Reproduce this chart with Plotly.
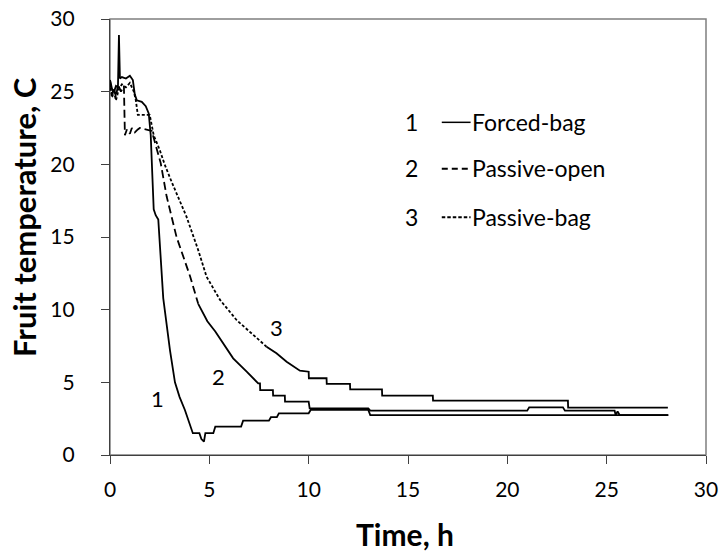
import plotly.graph_objects as go

# ---- data (time in h, temperature in C) ----
t_forced = [0, 0.1, 0.2, 0.3, 0.4, 0.45, 0.5, 0.6, 0.8, 1.0, 1.15, 1.25, 1.35, 1.6, 1.8, 1.95,
            2.05, 2.1, 2.2, 2.3, 2.43, 2.68, 3.02, 3.27, 3.5, 3.77, 4.0, 4.17, 4.5, 4.6, 4.73,
            4.8, 5.2, 5.3, 6.6, 6.7, 8.0, 8.1, 8.4, 8.5, 10.0, 10.1, 13.0, 13.1, 28.1]
T_forced = [25.8, 25.2, 25.0, 25.4, 25.3, 28.9, 25.9, 26.0, 25.9, 26.1, 25.8, 24.8, 24.4, 24.3, 24.0, 23.5,
            22.0, 20.5, 16.9, 16.5, 16.2, 10.8, 7.2, 5.0, 4.0, 3.1, 2.2, 1.5, 1.5, 1.1, 0.92,
            1.5, 1.5, 1.95, 1.95, 2.36, 2.36, 2.6, 2.6, 2.87, 2.87, 3.1, 3.1, 2.75, 2.75]

t_open = [0, 0.1, 0.2, 0.3, 0.4, 0.55, 0.7, 0.75, 0.85, 1.0, 1.1, 1.25, 1.4, 1.5, 2.1, 2.35,
          2.55, 2.85, 3.35, 4.03, 4.44, 4.9, 5.3, 5.7, 6.2, 6.88, 7.46, 7.55, 7.56, 8.2, 8.21,
          8.8, 8.81, 10.0, 10.05, 13.0, 13.1, 21.0, 21.1, 22.8, 22.9, 25.4, 25.45, 25.55, 25.65, 28.1]
T_open = [25.8, 24.8, 25.3, 24.6, 25.5, 25.0, 25.4, 22.0, 22.4, 22.1, 22.5, 22.2, 22.4, 22.5, 22.3, 21.0,
          20.1, 17.8, 15.0, 12.3, 10.4, 9.2, 8.5, 7.69, 6.65, 5.73, 4.93, 4.93, 4.47, 4.47, 4.08,
          4.08, 3.67, 3.67, 3.21, 3.21, 3.05, 3.05, 3.28, 3.28, 3.05, 3.05, 2.75, 3.0, 2.75, 2.75]

t_bag = [0, 0.1, 0.2, 0.3, 0.45, 0.6, 0.8, 1.0, 1.2, 1.3, 1.4, 2.0, 2.2, 2.5, 2.75, 3.1,
         3.85, 4.44, 4.86, 5.54, 6.37, 7.12, 7.88, 8.38, 8.89, 9.56, 10.0, 10.01, 10.9, 10.91,
         12.08, 12.09, 13.69, 13.7, 16.25, 16.26, 23.05, 23.06, 28.08]
T_bag = [25.6, 24.6, 25.0, 24.4, 25.2, 25.5, 25.3, 25.6, 25.0, 24.4, 23.4, 23.4, 22.0, 21.0, 20.0, 18.8,
         16.4, 14.1, 12.27, 10.67, 9.29, 8.37, 7.45, 7.0, 6.42, 5.80, 5.73, 5.28, 5.28, 4.89,
         4.89, 4.52, 4.52, 4.08, 4.08, 3.74, 3.74, 3.26, 3.26]

x_ticks = [0, 5, 10, 15, 20, 25, 30]
y_ticks = [0, 5, 10, 15, 20, 25, 30]

legend_nums = ["1", "2", "3"]
legend_names = ["Forced-bag", "Passive-open", "Passive-bag"]
legend_dashes = ["solid", "6px,4px", "3.5px,2px"]
legend_T = [22.94, 19.74, 16.41]

curve_labels = ["1", "2", "3"]
curve_label_t = [2.38, 5.45, 8.4]
curve_label_T = [3.9, 5.4, 8.8]

FONT = "Lato"
BLACK = "#000000"
LW = 1.8

fig = go.Figure()

def split(ts, Ts, cut):
    i = next(k for k, v in enumerate(ts) if v >= cut)
    return (ts[:i + 1], Ts[:i + 1]), (ts[i:], Ts[i:])

fig.add_trace(go.Scatter(x=t_forced, y=T_forced, mode="lines",
                         line=dict(color=BLACK, width=LW), name="Forced-bag"))

(a, b), (c, d) = split(t_open, T_open, 4.44)
fig.add_trace(go.Scatter(x=a, y=b, mode="lines",
                         line=dict(color=BLACK, width=LW, dash="8px,4px"), name="Passive-open"))
fig.add_trace(go.Scatter(x=c, y=d, mode="lines",
                         line=dict(color=BLACK, width=LW), showlegend=False))

(a, b), (c, d) = split(t_bag, T_bag, 7.88)
fig.add_trace(go.Scatter(x=a, y=b, mode="lines",
                         line=dict(color=BLACK, width=LW, dash="3px,2px"), name="Passive-bag"))
fig.add_trace(go.Scatter(x=c, y=d, mode="lines",
                         line=dict(color=BLACK, width=LW), showlegend=False))

ann = []
shapes = [dict(type="rect", xref="paper", yref="paper", x0=0, y0=0, x1=1, y1=1,
               line=dict(color="#7f7f7f", width=1.5), layer="below")]
for num, name, dsh, yv in zip(legend_nums, legend_names, legend_dashes, legend_T):
    ann.append(dict(x=15.18, y=yv, xref="x", yref="y", text=num, showarrow=False,
                    xanchor="center", yanchor="middle", font=dict(family=FONT, size=23, color=BLACK)))
    ann.append(dict(x=18.1, y=yv, xref="x", yref="y", text=name, showarrow=False,
                    xanchor="left", yanchor="middle", font=dict(family=FONT, size=23, color=BLACK)))
    shapes.append(dict(type="line", xref="x", yref="y", x0=16.7, x1=18.15, y0=yv - 0.05, y1=yv - 0.05,
                       line=dict(color=BLACK, width=1.5 if dsh == "solid" else 2, dash=dsh)))
for lab, xv, yv in zip(curve_labels, curve_label_t, curve_label_T):
    ann.append(dict(x=xv, y=yv, xref="x", yref="y", text=lab, showarrow=False,
                    xanchor="center", yanchor="middle", font=dict(family=FONT, size=22, color=BLACK)))

ann.append(dict(x=0.495, y=-0.181, xref="paper", yref="paper", text="<b>Time, h</b>",
                showarrow=False, xanchor="center", yanchor="middle",
                font=dict(family=FONT, size=30, color=BLACK)))
ann.append(dict(x=-0.1443, y=0.546, xref="paper", yref="paper", text="<b>Fruit temperature, C</b>",
                showarrow=False, xanchor="center", yanchor="middle", textangle=-90,
                font=dict(family=FONT, size=31, color=BLACK)))

fig.update_layout(
    width=722, height=554,
    margin=dict(l=110, r=16, t=19, b=99, autoexpand=False),
    paper_bgcolor="white", plot_bgcolor="white",
    showlegend=False,
    annotations=ann,
    shapes=shapes,
    xaxis=dict(range=[0, 30], tickvals=x_ticks, ticktext=[str(v) for v in x_ticks],
               showgrid=False, zeroline=False, showline=True, linecolor="#404040", linewidth=1.3,
               ticks="outside", ticklen=8, tickcolor="#404040", tickwidth=1.3,
               ticklabelstandoff=8, automargin=False,
               tickfont=dict(family=FONT, size=21, color=BLACK)),
    yaxis=dict(range=[0, 30], tickvals=y_ticks, ticktext=[str(v) for v in y_ticks],
               showgrid=False, zeroline=False, showline=True, linecolor="#404040", linewidth=1.3,
               ticks="outside", ticklen=8, tickcolor="#404040", tickwidth=1.3,
               ticklabelstandoff=22, automargin=False,
               tickfont=dict(family=FONT, size=21, color=BLACK)),
)

fig.write_html("out.html")
